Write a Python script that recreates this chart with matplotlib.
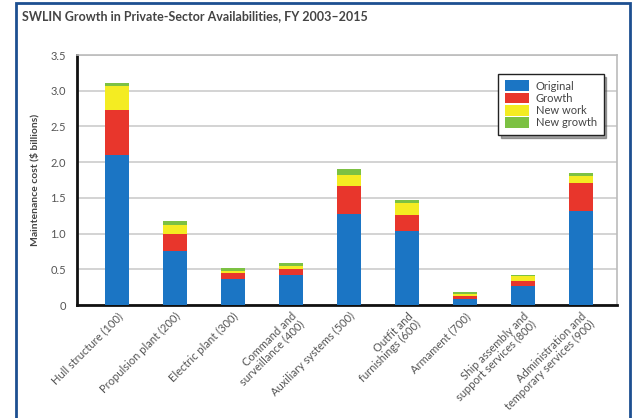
import numpy as np
import matplotlib.pyplot as plt
from matplotlib.patches import Rectangle

plt.rcParams['font.family'] = ['Lato', 'DejaVu Sans']

categories = ["Hull structure (100)", "Propulsion plant (200)", "Electric plant (300)",
              "Command and\nsurveillance (400)", "Auxiliary systems (500)",
              "Outfit and\nfurnishings (600)", "Armament (700)",
              "Ship assembly and\nsupport services (800)",
              "Administration and\ntemporary services (900)"]
original   = [2.10, 0.75, 0.36, 0.42, 1.27, 1.04, 0.08, 0.26, 1.32]
growth     = [0.63, 0.25, 0.09, 0.08, 0.39, 0.22, 0.04, 0.07, 0.39]
new_work   = [0.33, 0.12, 0.03, 0.04, 0.16, 0.17, 0.03, 0.07, 0.09]
new_growth = [0.05, 0.06, 0.04, 0.05, 0.08, 0.04, 0.03, 0.02, 0.05]

series = [("Original", original, "#1b75c4"),
          ("Growth", growth, "#e8362c"),
          ("New work", new_work, "#f4ec22"),
          ("New growth", new_growth, "#7cc143")]

fig = plt.figure(figsize=(6.39, 4.18), dpi=100)
ax = fig.add_axes([77/639, 1-305/418, 540/639, 250/418])

x = np.arange(len(categories))
bottom = np.zeros(len(categories))
for name, vals, col in series:
    ax.bar(x, vals, width=0.41, bottom=bottom, color=col, label=name, zorder=3)
    bottom += np.array(vals)

ax.set_xlim(-0.69, 8.62)
ax.set_ylim(0, 3.5)
ax.set_yticks(np.arange(0, 3.51, 0.5))
ax.set_yticklabels(["0", "0.5", "1.0", "1.5", "2.0", "2.5", "3.0", "3.5"])
ax.yaxis.grid(True, color="#cccccc", linewidth=1.2, zorder=0)
ax.tick_params(axis="y", length=0, labelsize=8, labelcolor="#555555", pad=8)
ax.tick_params(axis="x", length=0, labelsize=8, labelcolor="#555555", pad=4)
ax.set_xticks(x)
ax.set_xticklabels(categories, rotation=45, ha="right", rotation_mode="anchor",
                   linespacing=1.0)
for s in ["left", "bottom"]:
    ax.spines[s].set_linewidth(2)
    ax.spines[s].set_color("#111111")
for s in ["top", "right"]:
    ax.spines[s].set_color("#bbbbbb")
    ax.spines[s].set_linewidth(1.2)
ax.set_ylabel("Maintenance cost ($ billions)", fontsize=7.5, fontweight="bold",
              color="#444444", labelpad=8)

leg = ax.legend(loc="upper right", bbox_to_anchor=(0.975, 0.925), fontsize=8,
                frameon=True, fancybox=False, shadow=True, handlelength=2.2,
                handleheight=1.1, borderpad=0.6, labelspacing=0.1,
                handletextpad=0.6, borderaxespad=0)
leg.get_frame().set_edgecolor("#222222")
for t in leg.get_texts():
    t.set_color("#444444")

fig.text(22/639, 1-16/418, "SWLIN Growth in Private-Sector Availabilities, FY 2003\u20132015",
         fontsize=9, fontweight="bold", color="#444444", va="center")
fig.patches.append(Rectangle((16/639, -0.05), (630-16)/639, 1.05-3/418,
                             transform=fig.transFigure, fill=False,
                             edgecolor="#1d4f91", linewidth=2))

fig.savefig("out.png", dpi=100)
